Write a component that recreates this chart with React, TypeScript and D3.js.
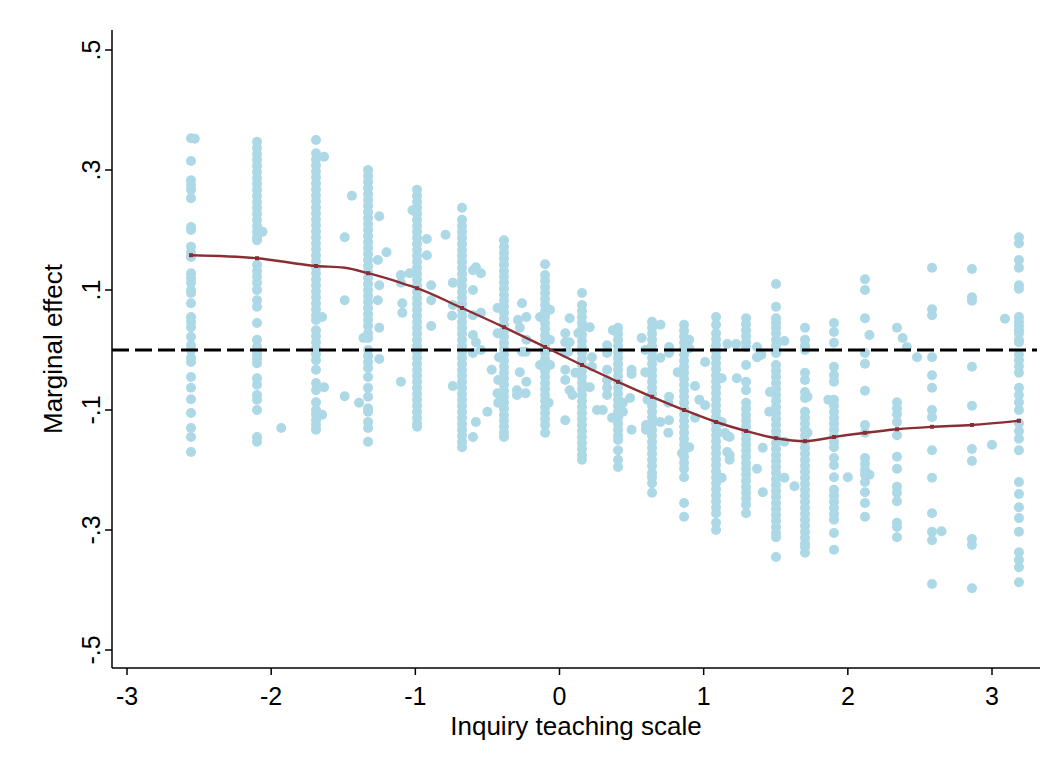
import React from 'react';
import * as d3 from 'd3';

const xTicks = [-3, -2, -1, 0, 1, 2, 3];
const xTickLabels = ['-3', '-2', '-1', '0', '1', '2', '3'];
const yTicks = [0.5, 0.3, 0.1, -0.1, -0.3, -0.5];
const yTickLabels = ['.5', '.3', '.1', '-.1', '-.3', '-.5'];
const xTitle = 'Inquiry teaching scale';
const yTitle = 'Marginal effect';

const columnX = [-2.556, -2.098, -1.689, -1.328, -0.988, -0.676, -0.385, -0.1, 0.156, 0.406, 0.642, 0.864, 1.086, 1.294, 1.502, 1.703, 1.904, 2.119, 2.341, 2.584, 2.861, 3.187];

const columnY: number[][] = [
  [0.353, 0.315, 0.283, 0.275, 0.267, 0.253, 0.205, 0.2, 0.172, 0.162, 0.155, 0.128, 0.12, 0.112, 0.1, 0.095, 0.078, 0.055, 0.047, 0.038, 0.022, 0.008, 0, -0.013, -0.02, -0.045, -0.063, -0.082, -0.105, -0.13, -0.145, -0.17],
  [0.347, 0.337, 0.327, 0.317, 0.307, 0.297, 0.287, 0.277, 0.267, 0.257, 0.247, 0.237, 0.227, 0.217, 0.207, 0.197, 0.187, 0.183, 0.142, 0.132, 0.122, 0.112, 0.1, 0.083, 0.072, 0.045, 0.017, 0.005, 0, -0.008, -0.015, -0.022, -0.047, -0.058, -0.075, -0.083, -0.1, -0.145, -0.153],
  [0.35, 0.328, 0.318, 0.308, 0.298, 0.288, 0.278, 0.268, 0.258, 0.248, 0.238, 0.228, 0.218, 0.208, 0.198, 0.188, 0.178, 0.168, 0.158, 0.148, 0.138, 0.128, 0.118, 0.108, 0.098, 0.088, 0.078, 0.068, 0.058, 0.05, 0.033, 0.023, 0.013, 0.003, -0.007, -0.017, -0.033, -0.055, -0.067, -0.087, -0.1, -0.108, -0.117, -0.125, -0.133],
  [0.3, 0.29, 0.28, 0.27, 0.26, 0.25, 0.24, 0.23, 0.22, 0.21, 0.2, 0.19, 0.18, 0.17, 0.16, 0.15, 0.14, 0.13, 0.12, 0.11, 0.1, 0.09, 0.08, 0.07, 0.06, 0.05, 0.04, 0.028, 0.02, 0, -0.01, -0.02, -0.03, -0.045, -0.063, -0.078, -0.097, -0.103, -0.12, -0.13, -0.153],
  [0.267, 0.257, 0.247, 0.237, 0.227, 0.217, 0.207, 0.197, 0.187, 0.177, 0.167, 0.157, 0.147, 0.137, 0.127, 0.117, 0.107, 0.097, 0.087, 0.077, 0.067, 0.057, 0.047, 0.037, 0.027, 0.017, 0.007, -0.003, -0.013, -0.023, -0.033, -0.043, -0.053, -0.063, -0.073, -0.083, -0.093, -0.103, -0.113, -0.123, -0.128],
  [0.237, 0.217, 0.207, 0.197, 0.187, 0.177, 0.167, 0.157, 0.147, 0.137, 0.127, 0.117, 0.107, 0.097, 0.087, 0.077, 0.067, 0.057, 0.047, 0.037, 0.027, 0.017, 0.007, -0.003, -0.013, -0.023, -0.033, -0.043, -0.053, -0.063, -0.073, -0.083, -0.093, -0.103, -0.113, -0.123, -0.133, -0.143, -0.153, -0.162],
  [0.183, 0.172, 0.162, 0.152, 0.142, 0.132, 0.122, 0.112, 0.102, 0.092, 0.082, 0.072, 0.062, 0.052, 0.042, 0.032, 0.022, 0.012, 0.002, -0.008, -0.018, -0.028, -0.038, -0.048, -0.058, -0.068, -0.078, -0.088, -0.098, -0.108, -0.118, -0.128, -0.138, -0.145],
  [0.143, 0.125, 0.115, 0.105, 0.095, 0.085, 0.075, 0.065, 0.055, 0.045, 0.035, 0.025, 0.015, 0.005, -0.005, -0.015, -0.025, -0.035, -0.045, -0.055, -0.065, -0.075, -0.085, -0.095, -0.105, -0.115, -0.125, -0.138],
  [0.095, 0.075, 0.065, 0.055, 0.045, 0.035, 0.025, 0.015, 0.005, -0.005, -0.015, -0.025, -0.035, -0.045, -0.055, -0.065, -0.075, -0.085, -0.095, -0.105, -0.115, -0.125, -0.135, -0.145, -0.155, -0.165, -0.175, -0.183],
  [0.037, 0.027, 0.017, 0.007, -0.003, -0.013, -0.023, -0.033, -0.043, -0.053, -0.063, -0.073, -0.083, -0.093, -0.103, -0.113, -0.123, -0.133, -0.143, -0.15, -0.167, -0.183, -0.195],
  [0.047, 0.037, 0.027, 0.017, 0.007, -0.003, -0.013, -0.023, -0.033, -0.043, -0.053, -0.063, -0.073, -0.083, -0.093, -0.103, -0.113, -0.123, -0.133, -0.143, -0.153, -0.163, -0.173, -0.183, -0.193, -0.205, -0.212, -0.222, -0.238],
  [0.042, 0.032, 0.022, 0.012, 0.002, -0.008, -0.018, -0.028, -0.038, -0.048, -0.058, -0.068, -0.078, -0.088, -0.098, -0.108, -0.118, -0.128, -0.138, -0.148, -0.158, -0.168, -0.178, -0.188, -0.198, -0.212, -0.255, -0.278],
  [0.055, 0.042, 0.028, 0.018, 0.008, -0.002, -0.012, -0.022, -0.032, -0.042, -0.052, -0.062, -0.072, -0.082, -0.092, -0.102, -0.112, -0.122, -0.132, -0.142, -0.152, -0.162, -0.172, -0.182, -0.192, -0.202, -0.212, -0.222, -0.232, -0.242, -0.252, -0.262, -0.272, -0.288, -0.3],
  [0.053, 0.043, 0.033, 0.023, 0.013, 0.005, -0.025, -0.053, -0.067, -0.088, -0.098, -0.108, -0.118, -0.128, -0.138, -0.148, -0.158, -0.168, -0.178, -0.188, -0.198, -0.208, -0.218, -0.228, -0.238, -0.248, -0.258, -0.272],
  [0.11, 0.072, 0.053, 0.045, 0.037, 0.028, 0.017, 0.008, -0.005, -0.025, -0.035, -0.045, -0.055, -0.065, -0.075, -0.085, -0.095, -0.105, -0.115, -0.125, -0.135, -0.145, -0.155, -0.165, -0.175, -0.185, -0.195, -0.205, -0.215, -0.225, -0.235, -0.245, -0.255, -0.265, -0.275, -0.285, -0.295, -0.305, -0.312, -0.345],
  [0.037, 0.017, 0.007, 0, -0.038, -0.05, -0.07, -0.08, -0.103, -0.113, -0.123, -0.133, -0.143, -0.153, -0.163, -0.173, -0.183, -0.193, -0.203, -0.213, -0.223, -0.233, -0.243, -0.253, -0.263, -0.273, -0.283, -0.293, -0.303, -0.313, -0.323, -0.328, -0.338],
  [0.045, 0.03, 0.012, -0.028, -0.042, -0.053, -0.083, -0.093, -0.103, -0.113, -0.123, -0.133, -0.143, -0.153, -0.162, -0.18, -0.192, -0.212, -0.233, -0.243, -0.253, -0.263, -0.273, -0.283, -0.305, -0.333],
  [0.118, 0.1, 0.053, -0.005, -0.023, -0.068, -0.125, -0.138, -0.18, -0.19, -0.2, -0.208, -0.22, -0.237, -0.255, -0.278],
  [0.037, -0.087, -0.097, -0.107, -0.12, -0.142, -0.178, -0.198, -0.228, -0.238, -0.252, -0.288, -0.295, -0.312],
  [0.137, 0.068, 0.058, -0.012, -0.042, -0.063, -0.1, -0.112, -0.167, -0.213, -0.272, -0.303, -0.317, -0.39],
  [0.135, 0.088, 0.082, -0.028, -0.093, -0.165, -0.185, -0.315, -0.325, -0.397],
  [0.188, 0.178, 0.15, 0.137, 0.108, 0.102, 0.055, 0.047, 0.04, 0.033, 0.028, 0.017, 0.013, -0.008, -0.017, -0.027, -0.038, -0.063, -0.075, -0.087, -0.1, -0.122, -0.135, -0.148, -0.167, -0.22, -0.24, -0.262, -0.28, -0.303, -0.337, -0.35, -0.362, -0.387],
];

const extraPoints: [number, number][] = [
  [-2.53, 0.352], [-2.06, 0.197], [-1.93, -0.13],
  [-1.633, 0.322], [-1.647, 0.055], [-1.633, -0.062], [-1.647, -0.108], [-1.49, 0.188], [-1.49, 0.083], [-1.44, 0.257], [-1.49, -0.077], [-1.39, -0.088],
  [-1.25, 0.223], [-1.2, 0.163], [-1.26, 0.15], [-1.25, 0.108], [-1.26, 0.083], [-1.25, 0.037], [-1.36, 0.02], [-1.25, -0.015], [-1.1, 0.125], [-1.1, 0.112], [-1.09, 0.078], [-1.09, 0.062], [-1.04, 0.128], [-1.1, -0.053],
  [-1.02, 0.233], [-0.92, 0.185], [-0.92, 0.158], [-0.89, 0.108], [-0.89, 0.083], [-0.89, 0.04], [-0.79, 0.192], [-0.74, 0.112], [-0.74, 0.075], [-0.745, 0.057], [-0.74, -0.06],
  [-0.6, 0.133], [-0.58, 0.138], [-0.545, 0.128], [-0.6, 0.1], [-0.6, 0.058], [-0.545, 0.062], [-0.6, 0.025], [-0.58, 0.013], [-0.6, -0.005], [-0.545, 0], [-0.47, -0.033], [-0.5, -0.103], [-0.58, -0.12], [-0.6, -0.145],
  [-0.43, 0.07], [-0.43, 0.028], [-0.26, 0.078], [-0.288, 0.05], [-0.23, 0.055], [-0.275, 0.037], [-0.23, 0.017], [-0.26, -0.003], [-0.235, -0.003], [-0.42, -0.012], [-0.425, -0.05], [-0.43, -0.072], [-0.425, -0.088], [-0.275, -0.037], [-0.295, -0.067], [-0.295, -0.075], [-0.23, -0.053], [-0.235, -0.072],
  [-0.066, 0.067], [-0.066, 0.017], [-0.135, 0.055], [-0.075, -0.088], [-0.135, -0.025], [-0.066, -0.025], [0.04, 0.028], [0.07, 0.053], [0.04, 0.013], [0.07, 0.013], [0.04, -0.005], [0.06, -0.003], [0.04, -0.033], [0.04, -0.05], [0.07, -0.067], [0.09, -0.075], [0.04, -0.117],
  [0.13, 0.028], [0.21, 0.038], [0.225, -0.012], [0.21, -0.062], [0.26, -0.1], [0.11, -0.038], [0.33, 0.008], [0.33, -0.005], [0.37, 0.033], [0.225, -0.028], [0.33, -0.033], [0.33, -0.05], [0.33, -0.063], [0.33, -0.075], [0.3, -0.1], [0.365, -0.113], [0.44, -0.088], [0.44, -0.103], [0.5, -0.033], [0.5, -0.04], [0.49, -0.08], [0.5, -0.133], [0.57, 0.02],
  [0.7, 0.042], [0.595, 0], [0.7, -0.013], [0.595, -0.037], [0.61, -0.083], [0.6, -0.125], [0.6, -0.133], [0.7, -0.12], [0.76, 0.005], [0.76, -0.005], [0.76, -0.078], [0.755, -0.088], [0.76, -0.117], [0.755, -0.138],
  [0.82, -0.037], [0.9, -0.162], [0.85, -0.172], [0.94, -0.06], [1.01, -0.02], [0.97, -0.083], [1.01, -0.092], [0.94, -0.113], [0.9, 0.017], [0.9, 0.003],
  [1.164, 0.01], [1.125, -0.047], [1.125, -0.12], [1.147, -0.138], [1.164, -0.143], [1.164, -0.17], [1.18, -0.183], [1.125, -0.213], [1.23, -0.047], [1.18, -0.145], [1.18, -0.175],
  [1.225, 0.01], [1.37, 0.005], [1.37, -0.012], [1.4, -0.008], [1.41, -0.163], [1.37, -0.198], [1.41, -0.237],
  [1.56, 0.015], [1.46, -0.07], [1.455, -0.103], [1.56, -0.153], [1.56, -0.213],
  [1.72, -0.078], [1.72, -0.138], [1.63, -0.227], [1.865, -0.083], [2.0, -0.212],
  [2.15, 0.025], [2.15, -0.208], [2.38, 0.02], [2.41, 0.005], [2.48, -0.012], [2.65, -0.302], [3.0, -0.158], [3.09, 0.052],
];

const fitX = [-2.556, -2.098, -1.689, -1.49, -1.328, -1.1, -0.988, -0.676, -0.385, -0.1, 0.156, 0.406, 0.642, 0.864, 1.086, 1.294, 1.502, 1.703, 1.904, 2.119, 2.341, 2.584, 2.861, 3.187];
const fitY = [0.158, 0.153, 0.14, 0.137, 0.128, 0.112, 0.103, 0.07, 0.038, 0.005, -0.025, -0.053, -0.078, -0.1, -0.12, -0.135, -0.147, -0.152, -0.145, -0.138, -0.132, -0.128, -0.125, -0.118];

const markerX = [-2.556, -2.098, -1.689, -1.328, -0.988, -0.676, -0.385, -0.1, 0.156, 0.406, 0.642, 0.864, 1.086, 1.294, 1.502, 1.703, 1.904, 2.119, 2.341, 2.584, 2.861, 3.187];

export default function App() {
  const W = 1054;
  const H = 769;
  const x = d3.scaleLinear().domain([-3, 3]).range([127, 992]);
  const y = d3.scaleLinear().domain([-0.5, 0.5]).range([650, 50]);
  const left = 112, right = 1040, top = 30, bottom = 668;
  const font = "'Liberation Sans', Arial, Helvetica, sans-serif";

  const points: [number, number][] = [];
  columnX.forEach((cx, i) => columnY[i].forEach((v) => points.push([cx, v])));
  extraPoints.forEach((p) => points.push(p));

  const fitData = fitX.map((fx, i) => [fx, fitY[i]] as [number, number]);
  const line = d3.line<[number, number]>().x((d) => x(d[0])).y((d) => y(d[1])).curve(d3.curveMonotoneX);
  const fitInterp = (xv: number) => {
    const i = d3.bisectLeft(fitX, xv);
    if (i <= 0) return fitY[0];
    if (i >= fitX.length) return fitY[fitY.length - 1];
    const t = (xv - fitX[i - 1]) / (fitX[i] - fitX[i - 1]);
    return fitY[i - 1] + t * (fitY[i] - fitY[i - 1]);
  };

  return (
    <svg width={W} height={H} style={{ position: 'absolute', left: 0, top: 0, background: '#fff' }}>
      <rect x={0} y={0} width={W} height={H} fill="#fff" />
      <g>
        {points.map((p, i) => (
          <circle key={i} cx={x(p[0])} cy={y(p[1])} r={5} fill="#add8e6" />
        ))}
      </g>
      <line x1={left} x2={right - 3} y1={y(0)} y2={y(0)} stroke="#000" strokeWidth={3} strokeDasharray="17 6" />
      <path d={line(fitData) || ''} fill="none" stroke="#8b2e34" strokeWidth={2.4} />
      {markerX.map((mx, i) => (
        <rect key={i} x={x(mx) - 2} y={y(fitInterp(mx)) - 2} width={4} height={4} fill="#8b2e34" />
      ))}
      <line x1={left} x2={left} y1={top} y2={bottom} stroke="#000" strokeWidth={1.5} />
      <line x1={left} x2={right} y1={bottom} y2={bottom} stroke="#000" strokeWidth={1.5} />
      {yTicks.map((t, i) => (
        <g key={i}>
          <line x1={left - 7} x2={left} y1={y(t)} y2={y(t)} stroke="#000" strokeWidth={1.5} />
          <text transform={`translate(100,${y(t)}) rotate(-90)`} textAnchor="middle" fontFamily={font} fontSize={25}>{yTickLabels[i]}</text>
        </g>
      ))}
      {xTicks.map((t, i) => (
        <g key={i}>
          <line x1={x(t)} x2={x(t)} y1={bottom} y2={bottom + 7} stroke="#000" strokeWidth={1.5} />
          <text x={x(t)} y={705} textAnchor="middle" fontFamily={font} fontSize={25}>{xTickLabels[i]}</text>
        </g>
      ))}
      <text x={(left + right) / 2} y={735} textAnchor="middle" fontFamily={font} fontSize={26}>{xTitle}</text>
      <text transform={`translate(62,${(top + bottom) / 2}) rotate(-90)`} textAnchor="middle" fontFamily={font} fontSize={26}>{yTitle}</text>
    </svg>
  );
}
